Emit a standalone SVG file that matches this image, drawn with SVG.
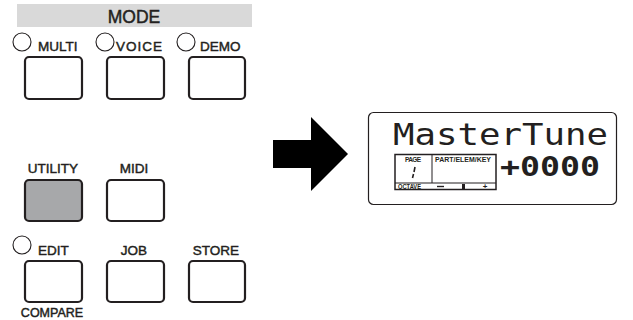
<svg xmlns="http://www.w3.org/2000/svg" width="633" height="320" viewBox="0 0 633 320">
<style>
.lbl{font-family:"Liberation Sans",Arial,sans-serif;font-size:13.5px;fill:#231f20;stroke:#231f20;stroke-width:0.45}
.btn{fill:#fff;stroke:#231f20;stroke-width:2.2}
.led{fill:#fff;stroke:#231f20;stroke-width:1.1}
.lcd{font-family:"DejaVu Sans Mono",monospace;fill:#231f20}
.tiny{font-family:"Liberation Sans",Arial,sans-serif;font-size:6.5px;font-weight:bold;fill:#231f20}
</style>
<rect x="17" y="4" width="235" height="23" fill="#d9d9d9"/>
<text x="134" y="23" text-anchor="middle" style="font-family:'Liberation Sans',Arial,sans-serif;font-size:17.5px;fill:#231f20;stroke:#231f20;stroke-width:0.45">MODE</text>
<g id="multi"><circle class="led" cx="22" cy="42" r="9"/><text class="lbl" x="38" y="51">MULTI</text><rect class="btn" x="25" y="57" width="57" height="42" rx="4"/></g>
<g id="voice"><circle class="led" cx="105" cy="42" r="9"/><text class="lbl" x="116" y="51" textLength="46">VOICE</text><rect class="btn" x="107" y="57" width="57" height="42" rx="4"/></g>
<g id="demo"><circle class="led" cx="186" cy="42" r="9"/><text class="lbl" x="200" y="51">DEMO</text><rect class="btn" x="189" y="57" width="56" height="42" rx="4"/></g>
<g id="utility"><text class="lbl" x="53" y="173" text-anchor="middle">UTILITY</text><rect class="btn" x="25" y="180" width="57" height="41" rx="4" style="fill:#a7a8aa"/></g>
<g id="midi"><text class="lbl" x="134" y="173" text-anchor="middle">MIDI</text><rect class="btn" x="107" y="180" width="57" height="41" rx="4"/></g>
<g id="edit"><circle class="led" cx="22" cy="245" r="9"/><text class="lbl" x="38" y="255">EDIT</text><rect class="btn" x="25" y="261" width="57" height="41" rx="4"/><text class="lbl" x="52" y="317" text-anchor="middle" style="font-size:12.5px">COMPARE</text></g>
<g id="job"><text class="lbl" x="134" y="255" text-anchor="middle">JOB</text><rect class="btn" x="107" y="261" width="57" height="41" rx="4"/></g>
<g id="store"><text class="lbl" x="216" y="255" text-anchor="middle">STORE</text><rect class="btn" x="189" y="261" width="56" height="41" rx="4"/></g>
<g id="connectors"><polygon points="273,140 311,140 311,117 348,154 311,191 311,168 273,168" fill="#000"/></g>
<g id="lcd">
<rect x="368.5" y="112.5" width="248" height="92" rx="5" fill="#fff" stroke="#231f20" stroke-width="1.2"/>
<text class="lcd" x="393" y="145" font-size="29.5" textLength="215" lengthAdjust="spacingAndGlyphs">MasterTune</text>
<text class="lcd" x="500" y="176" font-size="27" font-weight="bold" textLength="100" lengthAdjust="spacingAndGlyphs">+0000</text>
<rect x="395" y="154.5" width="101" height="35" fill="none" stroke="#231f20" stroke-width="1.5"/>
<line x1="432" y1="155" x2="432" y2="183" stroke="#231f20" stroke-width="1"/>
<line x1="395" y1="183" x2="496" y2="183" stroke="#231f20" stroke-width="1.2"/>
<text class="tiny" x="413" y="162" text-anchor="middle" textLength="16">PAGE</text>
<text class="tiny" x="435" y="162" textLength="56" lengthAdjust="spacingAndGlyphs">PART/ELEM/KEY</text>
<path d="M415,167 L414,172 M413.5,174 L412.5,178" stroke="#231f20" stroke-width="1.6" fill="none"/>
<text class="tiny" x="398" y="189" textLength="23" lengthAdjust="spacingAndGlyphs">OCTAVE</text>
<line x1="437" y1="186.5" x2="444" y2="186.5" stroke="#231f20" stroke-width="1.4"/>
<rect x="462" y="184" width="3" height="5" fill="#231f20"/>
<text class="tiny" x="485" y="189" text-anchor="middle" style="font-size:8px">+</text>
</g>
</svg>
